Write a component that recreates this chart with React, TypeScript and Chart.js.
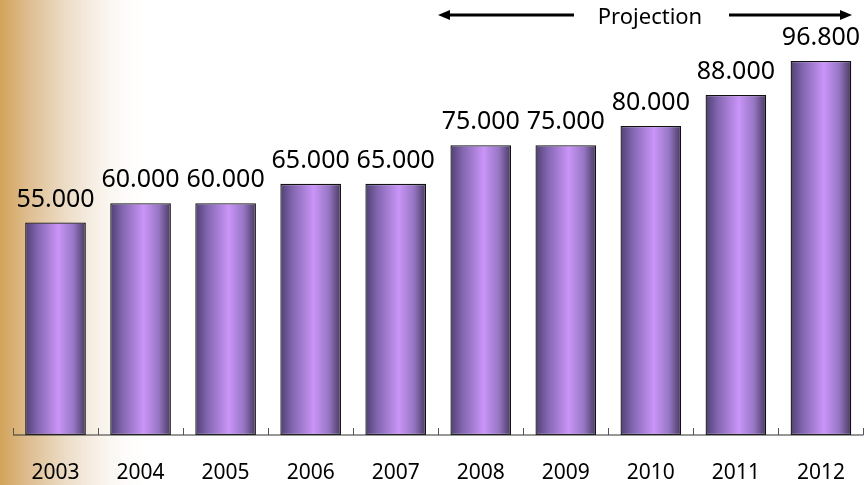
import React, { useEffect, useRef } from "react";
import { Chart, registerables } from "chart.js";

Chart.register(...registerables);

const years = ["2003", "2004", "2005", "2006", "2007", "2008", "2009", "2010", "2011", "2012"];
const values = [55000, 60000, 60000, 65000, 65000, 75000, 75000, 80000, 88000, 96800];
const projectionLabel = "Projection";

const FONT = "'Noto Sans', 'DejaVu Sans', sans-serif";
const BAR_PCT = 0.713;

function fmt(v: number): string {
  return String(v).replace(/\B(?=(\d{3})+(?!\d))/g, ".");
}

const decorPlugin = {
  id: "decor",
  afterDatasetsDraw(chart: any) {
    const { ctx, chartArea, scales } = chart;
    const x = scales.x;
    const y0 = chartArea.bottom;
    ctx.save();
    // axis line
    ctx.strokeStyle = "#333";
    ctx.lineWidth = 1.2;
    ctx.beginPath();
    ctx.moveTo(chartArea.left, y0);
    ctx.lineTo(chartArea.right, y0);
    ctx.stroke();
    // tick marks at category boundaries
    const n = years.length;
    const w = (chartArea.right - chartArea.left) / n;
    ctx.strokeStyle = "#555";
    ctx.lineWidth = 1;
    for (let i = 0; i <= n; i++) {
      const px = Math.round(x.getPixelForValue(i) - w / 2) + 0.5;
      ctx.beginPath();
      ctx.moveTo(px, y0);
      ctx.lineTo(px, y0 - 7);
      ctx.stroke();
    }
    // value labels
    const meta = chart.getDatasetMeta(0);
    ctx.fillStyle = "#000";
    ctx.font = `25px ${FONT}`;
    ctx.textAlign = "center";
    ctx.textBaseline = "alphabetic";
    meta.data.forEach((el: any, i: number) => {
      ctx.fillText(fmt(values[i]), el.x, el.y - 16);
    });
    // projection arrows
    const yA = 15;
    ctx.strokeStyle = "#000";
    ctx.fillStyle = "#000";
    ctx.lineWidth = 3;
    ctx.beginPath();
    ctx.moveTo(446, yA);
    ctx.lineTo(574, yA);
    ctx.moveTo(729, yA);
    ctx.lineTo(844, yA);
    ctx.stroke();
    ctx.beginPath();
    ctx.moveTo(438, yA);
    ctx.lineTo(450, yA - 5);
    ctx.lineTo(450, yA + 5);
    ctx.closePath();
    ctx.fill();
    ctx.beginPath();
    ctx.moveTo(852, yA);
    ctx.lineTo(840, yA - 5);
    ctx.lineTo(840, yA + 5);
    ctx.closePath();
    ctx.fill();
    ctx.font = `22px ${FONT}`;
    ctx.textAlign = "center";
    ctx.textBaseline = "middle";
    ctx.fillText(projectionLabel, 650, 18);
    ctx.restore();
  },
};

export default function App() {
  const ref = useRef<HTMLCanvasElement | null>(null);
  useEffect(() => {
    if (!ref.current) return;
    const chart = new Chart(ref.current, {
      type: "bar",
      data: {
        labels: years,
        datasets: [
          {
            data: values,
            backgroundColor: (c: any) => {
              const ch = c.chart;
              const xs = ch.scales && ch.scales.x;
              if (!ch.chartArea || !xs || c.dataIndex === undefined) return "#a67fd6";
              const cw = (ch.chartArea.right - ch.chartArea.left) / years.length;
              const cx = xs.getPixelForValue(c.dataIndex);
              const half = (cw * BAR_PCT) / 2;
              const g = ch.ctx.createLinearGradient(cx - half, 0, cx + half, 0);
              g.addColorStop(0, "#4f3f72");
              g.addColorStop(0.2, "#8266b0");
              g.addColorStop(0.55, "#ca95f8");
              g.addColorStop(0.8, "#9676c4");
              g.addColorStop(1, "#47385f");
              return g;
            },
            borderColor: "#111",
            borderWidth: 1.3,
            borderSkipped: false,
            barPercentage: BAR_PCT,
            categoryPercentage: 1,
          },
        ],
      },
      options: {
        responsive: false,
        animation: false,
        layout: { padding: { left: 13, right: 1, top: 10, bottom: 0 } },
        plugins: { legend: { display: false }, tooltip: { enabled: false } },
        scales: {
          x: {
            grid: { display: false, drawTicks: false },
            border: { display: false },
            ticks: { color: "#000", font: { family: FONT, size: 21 }, padding: 25, maxRotation: 0 },
            afterFit: (s: any) => {
              s.height = 50;
            },
          },
          y: { display: false, min: 0, max: 110000 },
        },
      },
      plugins: [decorPlugin],
    });
    return () => chart.destroy();
  }, []);
  return (
    <div
      style={{
        position: "fixed",
        left: 0,
        top: 0,
        width: 865,
        height: 485,
        overflow: "hidden",
        background:
          "linear-gradient(to right, #d2a35a 0px, #dfbf93 30px, #ecdcc6 65px, #f8f2ea 100px, #fdfcfa 125px, #ffffff 150px)",
      }}
    >
      <canvas ref={ref} width={870} height={485} style={{ width: 870, height: 485, display: "block" }} />
    </div>
  );
}
